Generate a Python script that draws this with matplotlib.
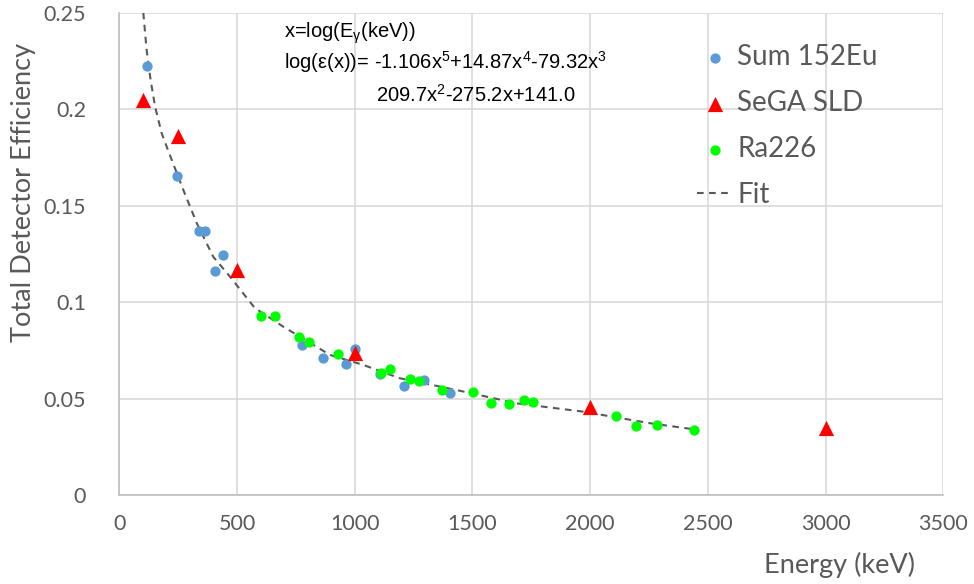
import numpy as np
import matplotlib
matplotlib.use("Agg")
import matplotlib.pyplot as plt

# measured total efficiencies (energy in keV)
eu_energy = [119, 243, 339, 364, 441, 407, 774, 864, 961, 1000, 1106, 1208, 1295, 1403]
eu_eff = [0.2222, 0.1656, 0.1371, 0.1368, 0.1246, 0.1162, 0.0775, 0.0709, 0.0679,
          0.0757, 0.0628, 0.0565, 0.0596, 0.0531]

sld_energy = [100, 250, 500, 1000, 2000, 3000]
sld_eff = [0.2045, 0.186, 0.1167, 0.0735, 0.0455, 0.0348]

ra_energy = [604, 661, 765, 805, 929, 1113, 1151, 1233, 1275, 1370, 1504, 1578,
             1655, 1720, 1758, 2110, 2196, 2285, 2439]
ra_eff = [0.0928, 0.0928, 0.0818, 0.0795, 0.0730, 0.0631, 0.0654, 0.0602, 0.0593,
          0.0545, 0.0536, 0.0476, 0.0470, 0.0493, 0.0481, 0.0411, 0.0358, 0.0363,
          0.0337]

# polynomial fit curve, sampled along its length
fit_energy = [102, 116, 133, 152, 180, 212, 272, 329, 399, 470, 575, 697, 895,
              1037, 1192, 1433, 1688, 1971, 2254, 2450]
fit_eff = [0.25, 0.2307, 0.2151, 0.2013, 0.1875, 0.1771, 0.1581, 0.1409, 0.1235,
           0.1132, 0.0970, 0.0872, 0.0726, 0.0674, 0.0605, 0.0544, 0.0475, 0.0432,
           0.0372, 0.0339]

x_ticks = [0, 500, 1000, 1500, 2000, 2500, 3000, 3500]
y_ticks = [0, 0.05, 0.1, 0.15, 0.2, 0.25]
y_labels = ["0", "0.05", "0.1", "0.15", "0.2", "0.25"]

TXT = "#595959"
GRID = "#d9d9d9"
plt.rcParams["font.family"] = ["Lato", "DejaVu Sans"]

fig = plt.figure(figsize=(9.74, 5.84), dpi=100)
ax = fig.add_axes([119.3 / 974, 1 - 495 / 584, 824 / 974, (495 - 12.7) / 584])

ax.plot(fit_energy, fit_eff, ls=(0, (3.2, 2.6)), color="#595959", lw=1.5,
        label="Fit", zorder=2)
ax.scatter(eu_energy, eu_eff, s=55, color="#5b9bd5", label="Sum 152Eu",
           zorder=3, linewidths=0)
ax.scatter(sld_energy, sld_eff, s=120, marker="^", color="#ff0000",
           label="SeGA SLD", zorder=4, linewidths=0)
ax.scatter(ra_energy, ra_eff, s=55, color="#00ff00", label="Ra226",
           zorder=5, linewidths=0)

ax.set_xlim(0, 3500)
ax.set_ylim(0, 0.25)
ax.set_xticks(x_ticks)
ax.set_xticklabels([str(v) for v in x_ticks])
ax.set_yticks(y_ticks)
ax.set_yticklabels(y_labels)
ax.grid(True, color=GRID, lw=1.2)
ax.set_axisbelow(True)
for side in ("top", "right"):
    ax.spines[side].set_visible(False)
for side in ("left", "bottom"):
    ax.spines[side].set_color("#bfbfbf")
    ax.spines[side].set_linewidth(1.2)
ax.tick_params(length=0, labelsize=15.5, colors=TXT)
ax.tick_params(axis="y", pad=24)
ax.tick_params(axis="x", pad=14)

fig.text(24 / 974, 1 - 192 / 584, "Total Detector Efficiency", rotation=90,
         ha="center", va="center", fontsize=19.5, color=TXT)
fig.text(915 / 974, 1 - 565 / 584, "Energy (keV)", ha="right", va="center",
         fontsize=19.5, color=TXT)

# fit equation
eq = dict(family=["Liberation Sans", "DejaVu Sans"], fontsize=14.5, color="black",
          transform=fig.transFigure, va="center", ha="left")
fig.text(284 / 974, 1 - 33 / 584, r"x=log(E$_\mathregular{\gamma}$(keV))", **eq)
fig.text(284 / 974, 1 - 62 / 584,
         r"log(ε(x))= -1.106x$^\mathregular{5}$+14.87x$^\mathregular{4}$-79.32x$^\mathregular{3}$",
         **eq)
fig.text(376 / 974, 1 - 95 / 584, r"209.7x$^\mathregular{2}$-275.2x+141.0", **eq)

handles, labels = ax.get_legend_handles_labels()
order = [1, 2, 3, 0]
leg = ax.legend([handles[i] for i in order], [labels[i] for i in order],
                loc="upper left", bbox_to_anchor=(697 / 974, 1 - 44 / 584),
                bbox_transform=fig.transFigure, frameon=False, fontsize=20,
                handlelength=1.3, handletextpad=0.15, labelspacing=0.72,
                borderpad=0, borderaxespad=0)
for t in leg.get_texts():
    t.set_color(TXT)

fig.savefig("out.png", dpi=100)
